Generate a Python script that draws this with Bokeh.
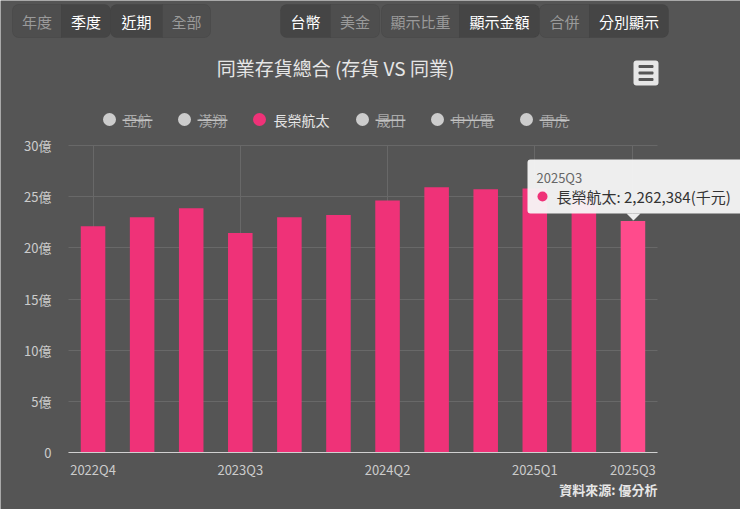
# External imports
from bokeh.plotting import figure
from bokeh.models import (BoxAnnotation, Label, PolyAnnotation, FixedTicker, Range1d,
                          LinearAxis, Grid)
from bokeh.embed import file_html
from bokeh.resources import INLINE

# chart data (inventory in 億 NTD)
quarters = ["2022Q4", "2023Q1", "2023Q2", "2023Q3", "2023Q4", "2024Q1",
            "2024Q2", "2024Q3", "2024Q4", "2025Q1", "2025Q2", "2025Q3"]
inventory = [22.11, 22.99, 23.87, 21.46, 22.99, 23.22,
             24.63, 25.93, 25.73, 25.80, 24.80, 22.62384]
peers = ["亞航", "漢翔", "長榮航太", "晟田", "中光電", "雷虎"]
shown_peer = "長榮航太"
x_tick_labels = ["2022Q4", "2023Q3", "2024Q2", "2025Q1", "2025Q3"]
y_ticks = [0, 5, 10, 15, 20, 25, 30]
hovered = "2025Q3"

# toolbar buttons: (label, selected)
button_groups = [
    [("年度", False), ("季度", True)],
    [("近期", True), ("全部", False)],
    [("台幣", True), ("美金", False)],
    [("顯示比重", False), ("顯示金額", True)],
    [("合併", False), ("分別顯示", True)],
]

FONT = "Noto Sans CJK TC"
BG = "#555555"
PINK = "#ef3278"
PINK_HOVER = "#ff4b8c"

# page layout: default ranges are page pixels (y down), the chart uses extra ranges
PAGE_L, PAGE_R, PAGE_T, PAGE_B = 0, 740, 0, 509
PLOT_L, PLOT_R, PLOT_T, PLOT_B = 68, 657, 145, 452
Y_MAX = 30
n = len(quarters)
kx = (PLOT_R - PLOT_L) / n
ky = (PLOT_B - PLOT_T) / Y_MAX

p = figure(width=PAGE_R - PAGE_L, height=PAGE_B - PAGE_T, output_backend="svg",
           toolbar_location=None, title=None, x_axis_type=None, y_axis_type=None,
           x_range=Range1d(PAGE_L, PAGE_R), y_range=Range1d(PAGE_B, PAGE_T), min_border=0)
p.extra_x_ranges = {"q": Range1d(-(PLOT_L - PAGE_L) / kx, n + (PAGE_R - PLOT_R) / kx)}
p.extra_y_ranges = {"v": Range1d(-(PAGE_B - PLOT_B) / ky, Y_MAX + (PLOT_T - PAGE_T) / ky)}
p.background_fill_color = BG
p.border_fill_color = BG
p.outline_line_color = None

xs = [i + 0.5 for i in range(n)]
x_ticks = [quarters.index(q) + 0.5 for q in x_tick_labels]

# grid lines, limited to the plot area
if "cross_bounds" in Grid.properties():
    p.add_layout(Grid(dimension=0, ticker=FixedTicker(ticks=x_ticks), x_range_name="q",
                      y_range_name="v", cross_bounds=(0, Y_MAX), grid_line_color="#686868"))
    p.add_layout(Grid(dimension=1, ticker=FixedTicker(ticks=y_ticks), x_range_name="q",
                      y_range_name="v", cross_bounds=(0, n), grid_line_color="#686868"))
else:
    p.segment(x0=x_ticks, x1=x_ticks, y0=0, y1=Y_MAX, line_color="#686868",
              x_range_name="q", y_range_name="v")
    p.segment(x0=0, x1=n, y0=y_ticks, y1=y_ticks, line_color="#686868",
              x_range_name="q", y_range_name="v")

colors = [PINK_HOVER if q == hovered else PINK for q in quarters]
p.vbar(x=xs, top=inventory, width=0.5, fill_color=colors, line_color=None,
       x_range_name="q", y_range_name="v")

# axes pinned to the plot area
xaxis = LinearAxis(x_range_name="q", y_range_name="v", fixed_location=0, bounds=(0, n),
                   ticker=FixedTicker(ticks=x_ticks, minor_ticks=[]))
xaxis.major_label_overrides = {t: q for t, q in zip(x_ticks, x_tick_labels)}
xaxis.axis_line_color = "#d0d0d0"
xaxis.major_tick_line_color = None
xaxis.major_tick_out = 0
xaxis.major_label_standoff = 7
xaxis.major_label_text_font = FONT
xaxis.major_label_text_font_size = "13px"
xaxis.major_label_text_color = "#cccccc"
p.add_layout(xaxis, "below")

yaxis = LinearAxis(x_range_name="q", y_range_name="v", fixed_location=0,
                   ticker=FixedTicker(ticks=y_ticks, minor_ticks=[]))
yaxis.major_label_overrides = {t: (f"{t}億" if t else "0") for t in y_ticks}
yaxis.axis_line_color = None
yaxis.major_tick_line_color = None
yaxis.major_tick_out = 0
yaxis.major_label_standoff = 17
yaxis.major_label_text_font = FONT
yaxis.major_label_text_font_size = "13px"
yaxis.major_label_text_color = "#cccccc"
p.add_layout(yaxis, "left")


def box(l, r, t, b, **kw):
    p.add_layout(BoxAnnotation(left=l, right=r, top=t, bottom=b, **kw))


def label(x, y, text, size, color, align="left", style="normal"):
    p.add_layout(Label(x=x, y=y, text=text, text_font=FONT, text_font_size=f"{size}px",
                       text_color=color, text_align=align, text_baseline="middle",
                       text_font_style=style))


# buttons on top
group_edges = [(12, 61, 110), (110, 162, 210), (280, 330, 379), (381, 459, 539), (539, 589, 668)]
for group, (left, mid, right) in zip(button_groups, group_edges):
    for k, (name, sel) in enumerate(group):
        l, r = (left, mid) if k == 0 else (mid, right)
        radius = (6, 0, 0, 6) if k == 0 else (0, 6, 6, 0)
        box(l, r, 4, 37, fill_color="#454545" if sel else "#4e4e4e", fill_alpha=1,
            line_color="#3e3e3e", line_width=1, border_radius=radius)
        label((l + r) / 2, 21, name, 15, "#ffffff" if sel else "#9a9a9a", align="center")

# title and menu icon
label(335, 67, "同業存貨總合 (存貨 VS 同業)", 19, "#e6e6e6", align="center")
box(633, 658, 60, 85, fill_color="#e6e6e6", fill_alpha=1, line_color=None, border_radius=3)
for yy in (66, 72.5, 79):
    box(638, 653, yy - 1.5, yy + 1.5, fill_color="#555555", fill_alpha=1, line_color=None,
        border_radius=1)

# legend (hidden series are struck through)
lx = 109
for name in peers:
    active = name == shown_peer
    box(lx - 6.5, lx + 6.5, 112.5, 125.5, fill_color=PINK if active else "#cccccc",
        fill_alpha=1, line_color=None, border_radius=7)
    label(lx + 14, 119, name, 14, "#e6e6e6" if active else "#aaaaaa")
    if not active:
        box(lx + 13, lx + 15 + 14 * len(name), 119, 120.5, fill_color="#c4c4c4",
            fill_alpha=1, line_color=None, level="overlay")
    lx += 14 + 14 * len(name) + 33

# tooltip on the hovered bar
box(527, 760, 159, 213, fill_color="#f7f7f7", fill_alpha=0.95, line_color=None, border_radius=3)
p.add_layout(PolyAnnotation(xs=[626, 640, 633], ys=[213, 213, 220],
                            fill_color="#f7f7f7", fill_alpha=0.95, line_color=None))
hv = quarters.index(hovered)
label(536, 177, hovered, 13, "#666666")
box(537, 547, 191, 201, fill_color=PINK, fill_alpha=1, line_color=None, border_radius=5)
label(556, 196, f"{shown_peer}: {round(inventory[hv] * 1e5):,}(千元)", 15, "#333333")

# credit
label(657, 489, "資料來源: 優分析", 13, "#e6e6e6", align="right", style="bold")

open("out.html", "w").write(file_html(p, INLINE))
